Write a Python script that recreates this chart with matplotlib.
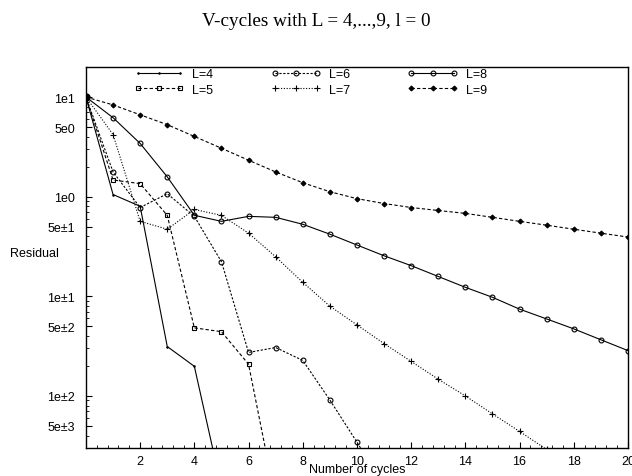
import matplotlib
matplotlib.use("Agg")
import matplotlib.pyplot as plt
from matplotlib.ticker import FixedLocator, NullFormatter, MultipleLocator, LogLocator

# residual after each V-cycle, one list per finest level L
cycles = list(range(21))
res_L4 = [10, 1.05, 0.80, 0.0313, 0.0198, 0.0012]
res_L5 = [10, 1.47, 1.35, 0.649, 0.0482, 0.0441, 0.0208, 0.0009]
res_L6 = [10, 1.77, 0.778, 1.07, 0.634, 0.222, 0.0273, 0.0306, 0.0227, 0.0091, 0.00343, 0.00126]
res_L7 = [10, 4.2, 0.565, 0.471, 0.743, 0.649, 0.43, 0.249, 0.138, 0.0796, 0.0516,
          0.0335, 0.0222, 0.0147, 0.0100, 0.0066, 0.0044, 0.0029, 0.0019]
res_L8 = [10, 6.2, 3.42, 1.58, 0.65, 0.565, 0.634, 0.62, 0.528, 0.42, 0.327,
          0.255, 0.203, 0.158, 0.123, 0.0977, 0.0743, 0.0592, 0.0471, 0.0366, 0.0285]
res_L9 = [10, 8.33, 6.63, 5.28, 4.02, 3.06, 2.32, 1.77, 1.38, 1.12, 0.955,
          0.853, 0.778, 0.726, 0.679, 0.62, 0.565, 0.517, 0.471, 0.43, 0.393]

ytick_vals = [1e1, 5e0, 1e0, 5e-1, 1e-1, 5e-2, 1e-2, 5e-3]
ytick_labels = ["1e1", "5e0", "1e0", "5e±1", "1e±1", "5e±2", "1e±2", "5e±3"]
xtick_vals = [2, 4, 6, 8, 10, 12, 14, 16, 18, 20]

plt.rcParams["font.family"] = ["Liberation Sans", "DejaVu Sans"]
plt.rcParams["font.size"] = 9

fig = plt.figure(figsize=(6.32, 4.77), dpi=100)
ax = fig.add_axes([0.136, 0.0587, 0.8576, 0.7987])

series = [
    ("L=4", res_L4, dict(linestyle="-", marker=".", markersize=2)),
    ("L=5", res_L5, dict(linestyle=(0, (3, 2)), marker="s", markersize=3.5, markerfacecolor="none")),
    ("L=6", res_L6, dict(linestyle=(0, (2, 1.5)), marker="o", markersize=3.5, markerfacecolor="none")),
    ("L=7", res_L7, dict(linestyle=(0, (1, 1.5)), marker="+", markersize=4)),
    ("L=8", res_L8, dict(linestyle="-", marker="o", markersize=3.5, markerfacecolor="none")),
    ("L=9", res_L9, dict(linestyle=(0, (3, 2)), marker="D", markersize=2.5)),
]
for name, vals, style in series:
    ax.plot(cycles[:len(vals)], vals, color="black", linewidth=0.8,
            markeredgewidth=0.8, label=name, **style)

ax.plot([0], [10], "o", color="black", markersize=5)

ax.set_yscale("log")
ax.set_xlim(0, 20)
ax.set_ylim(3e-3, 2e1)
ax.yaxis.set_major_locator(FixedLocator(ytick_vals))
ax.set_yticklabels(ytick_labels)
ax.yaxis.set_minor_locator(LogLocator(base=10, subs=[2, 3, 4, 6, 7, 8, 9]))
ax.yaxis.set_minor_formatter(NullFormatter())
ax.xaxis.set_major_locator(FixedLocator(xtick_vals))
ax.xaxis.set_minor_locator(MultipleLocator(0.4))
ax.tick_params(which="major", direction="in", length=4, width=0.8)
ax.tick_params(axis="y", which="major", pad=8)
ax.tick_params(axis="x", which="major", pad=5)
ax.tick_params(which="minor", direction="in", length=2, width=0.6)
for sp in ax.spines.values():
    sp.set_linewidth(1.0)

ax.set_xlabel("Number of cycles", labelpad=-2.5)
fig.text(0.016, 1 - 254 / 477, "Residual", ha="left", va="center")
fig.text(0.5, 1 - 22 / 477, "V-cycles with L = 4,...,9, l = 0",
         ha="center", va="center", fontsize=13.8, family=["Liberation Serif", "DejaVu Serif"])

ax.legend(loc="upper left", bbox_to_anchor=(134 / 632, 1 - 69 / 477),
          bbox_transform=fig.transFigure, ncol=3, frameon=False, numpoints=3,
          handlelength=4.0, handletextpad=0.65, columnspacing=4.6,
          labelspacing=0.3, borderpad=0, borderaxespad=0)

fig.savefig("out.png", dpi=100)
plt.close(fig)
